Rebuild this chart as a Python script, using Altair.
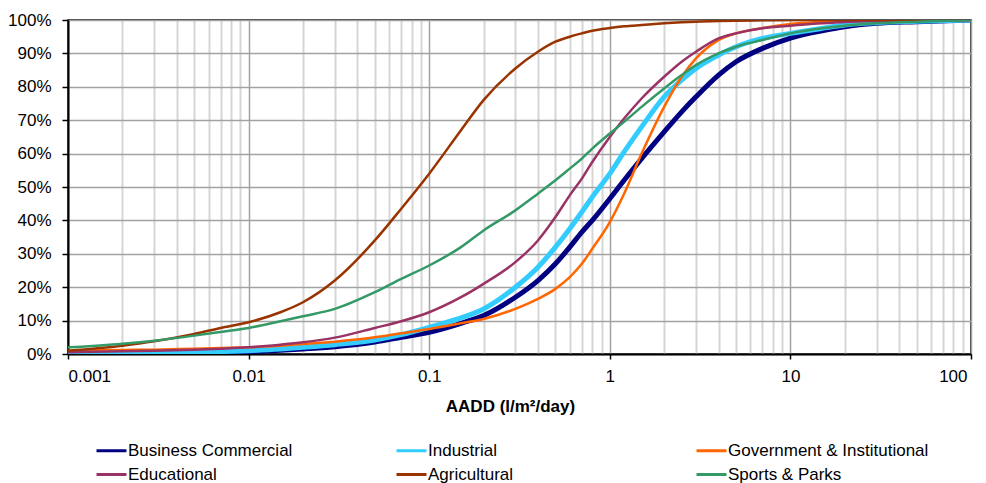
import altair as alt
import pandas as pd

# x values (AADD, l/m2/day) at which the cumulative curves were read
AADD = [0.001, 0.002, 0.003, 0.005, 0.007, 0.01, 0.015, 0.02, 0.03, 0.05, 0.07,
        0.1, 0.15, 0.2, 0.3, 0.4, 0.5, 0.6, 0.7, 0.8, 1, 1.2, 1.5, 2, 2.5, 3,
        4, 5, 7, 10, 15, 20, 30, 50, 100]

SERIES = ["Business Commercial", "Industrial", "Government & Institutional",
          "Educational", "Agricultural", "Sports & Parks"]
COLORS = ["#000080", "#33CCFF", "#FF6600", "#993366", "#993300", "#339966"]
THICK_SERIES = ["Business Commercial", "Industrial"]

# cumulative percentages
BUSINESS = [0.0, 0.1, 0.2, 0.3, 0.5, 0.7, 1.1, 1.5, 2.2, 3.6, 5.0,
            6.5, 9.2, 11.5, 17.0, 22.0, 27.0, 32.0, 36.5, 40.0, 46.5, 52.0, 58.5, 66.5, 72.5, 77.0,
            83.5, 87.5, 91.5, 94.6, 96.8, 98.0, 99.0, 99.5, 100.0]
INDUSTRIAL = [0.0, 0.2, 0.3, 0.5, 0.7, 1.0, 1.5, 2.0, 2.8, 4.2, 5.8,
              8.0, 10.8, 13.5, 20.0, 26.0, 32.0, 37.5, 42.5, 47.0, 54.0, 60.5, 68.0, 77.0, 82.0, 85.5,
              89.5, 92.0, 94.5, 96.0, 97.5, 98.5, 99.2, 99.6, 100.0]
GOVERNMENT = [1.0, 1.2, 1.3, 1.6, 1.8, 2.0, 2.5, 3.0, 3.7, 5.0, 6.2,
              7.5, 9.2, 10.5, 13.5, 16.5, 19.5, 23.0, 27.0, 31.5, 39.5, 48.0, 60.0, 74.0, 83.0, 88.5,
              94.0, 96.0, 97.6, 98.8, 99.4, 99.7, 99.9, 100.0, 100.0]
EDUCATIONAL = [0.5, 0.8, 1.0, 1.3, 1.6, 2.0, 2.8, 3.5, 4.9, 7.8, 9.8,
               12.5, 17.0, 21.0, 27.5, 34.0, 41.0, 47.5, 52.5, 57.5, 65.0, 70.5, 76.5, 83.0, 87.5, 90.5,
               94.5, 96.0, 97.5, 98.3, 99.0, 99.4, 99.7, 99.9, 100.0]
AGRICULTURAL = [1.0, 2.5, 3.8, 6.0, 7.8, 9.5, 12.5, 15.5, 22.0, 34.0, 43.5,
                54.0, 67.0, 76.0, 85.5, 90.5, 93.5, 95.0, 96.0, 96.8, 97.6, 98.1, 98.5, 99.0, 99.3, 99.5,
                99.7, 99.8, 99.9, 100.0, 100.0, 100.0, 100.0, 100.0, 100.0]
SPORTS = [2.0, 3.1, 4.0, 5.5, 6.6, 7.8, 9.8, 11.3, 13.5, 18.5, 22.5,
          26.5, 32.0, 37.0, 43.0, 48.0, 52.0, 55.5, 58.5, 61.5, 66.0, 69.5, 74.0, 79.5, 83.5, 86.5,
          90.0, 92.0, 94.0, 96.0, 97.5, 98.3, 99.0, 99.5, 100.0]

X_TICKS = [0.001, 0.002, 0.003, 0.004, 0.005, 0.006, 0.007, 0.008, 0.009,
           0.01, 0.02, 0.03, 0.04, 0.05, 0.06, 0.07, 0.08, 0.09,
           0.1, 0.2, 0.3, 0.4, 0.5, 0.6, 0.7, 0.8, 0.9,
           1, 2, 3, 4, 5, 6, 7, 8, 9,
           10, 20, 30, 40, 50, 60, 70, 80, 90, 100]
Y_TICKS = [0, 0.1, 0.2, 0.3, 0.4, 0.5, 0.6, 0.7, 0.8, 0.9, 1.0]

rows = []
for name, vals in zip(SERIES, [BUSINESS, INDUSTRIAL, GOVERNMENT, EDUCATIONAL, AGRICULTURAL, SPORTS]):
    for x, v in zip(AADD, vals):
        rows.append({"series": name, "aadd": x, "pct": v / 100.0})
df = pd.DataFrame(rows)

FONT = "Liberation Sans"
DEC = "abs(log(datum.value)/LN10 - round(log(datum.value)/LN10)) < 0.001"
THICK_TEST = " || ".join(f"datum.series === '{s}'" for s in THICK_SERIES)

x_axis = alt.Axis(
    values=X_TICKS,
    format="~g",
    labelExpr=f"{DEC} ? datum.label : ''",
    labelOverlap=False,
    labelFont=FONT, labelFontSize=17, labelColor="black",
    labelPadding=9,
    labelOffset={"condition": {"test": "datum.value == 100", "value": -4}, "value": 0},
    tickSize=5,
    tickWidth=1.5,
    tickColor={"condition": {"test": DEC, "value": "black"}, "value": "transparent"},
    grid=True,
    gridColor={"condition": {"test": DEC, "value": "#a2a2a2"}, "value": "#d6d6d6"},
    gridWidth={"condition": {"test": DEC, "value": 1.5}, "value": 2},
    gridOpacity=1,
    domainColor="black", domainWidth=2,
    title="AADD (l/m²/day)",
    titleFont=FONT, titleFontSize=17, titleFontWeight="bold", titleColor="black",
    titlePadding=14,
    titleX=442,
)

y_axis = alt.Axis(
    values=Y_TICKS,
    format=".0%",
    labelFont=FONT, labelFontSize=17, labelColor="black",
    labelPadding=11,
    tickSize=6, tickColor="black", tickWidth=1.5,
    grid=True, gridColor="#a2a2a2", gridWidth=1.5, gridOpacity=1,
    domainColor="black", domainWidth=2,
    title=None,
)

chart = alt.Chart(df).mark_line(interpolate="monotone", clip=True).encode(
    x=alt.X("aadd:Q", scale=alt.Scale(type="log", domain=[0.001, 100]), axis=x_axis),
    y=alt.Y("pct:Q", scale=alt.Scale(domain=[0, 1]), axis=y_axis),
    color=alt.Color(
        "series:N",
        scale=alt.Scale(domain=SERIES, range=COLORS),
        legend=alt.Legend(
            title=None,
            orient="none",
            legendX=27, legendY=419,
            direction="horizontal",
            columns=3,
            gridAlign="all",
            columnPadding=61,
            rowPadding=4,
            symbolType="M-1,0H2",
            symbolSize=400,
            symbolStrokeWidth=3,
            labelFont=FONT, labelFontSize=17, labelColor="black",
            labelLimit=400,
            labelOffset=10,
        ),
    ),
    strokeWidth=alt.condition(THICK_TEST, alt.value(5), alt.value(2.5)),
).properties(
    width=903,
    height=334,
    autosize=alt.AutoSizeParams(type="none"),
    padding={"left": 60, "top": 12, "right": 7, "bottom": 140},
).configure_view(
    stroke="black", strokeWidth=1.5
)

chart.save("out.html", embed_options={"renderer": "svg", "actions": False})
